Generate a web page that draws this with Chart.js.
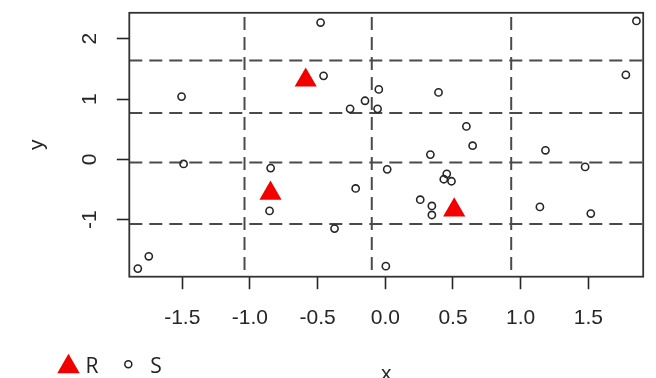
<!DOCTYPE html>
<html>
<head>
<meta charset="utf-8">
<script src="https://cdn.jsdelivr.net/npm/chart.js@4.4.1/dist/chart.umd.min.js"></script>
<style>
  html, body { margin: 0; padding: 0; background: #ffffff; }
  #wrap { width: 656px; height: 378px; }
</style>
</head>
<body>
<div id="wrap"><canvas id="plot" width="656" height="378"></canvas></div>
<script>
// Group S: open circles
const sX = [-1.505, -0.478, -0.456, -0.048, 0.393, -0.150, -0.260, -0.057, 0.599, 0.645,
            1.855, 1.777, -1.490, -0.847, -0.855, -1.747, -1.828, 0.333, 0.014, 0.454,
            0.432, 0.489, -0.219, 0.258, 0.344, 0.344, -0.375, 0.004, 1.183, 1.476,
            1.142, 1.518];
const sY = [1.041, 2.268, 1.385, 1.160, 1.111, 0.972, 0.838, 0.838, 0.547, 0.227,
            2.295, 1.401, -0.075, -0.144, -0.853, -1.606, -1.810, 0.080, -0.165, -0.239,
            -0.329, -0.362, -0.481, -0.668, -0.771, -0.921, -1.147, -1.769, 0.151, -0.124,
            -0.787, -0.897];

// Group R: filled triangles
const rX = [-0.588, -0.848, 0.509];
const rY = [1.313, -0.563, -0.841];

// Dashed reference lines
const vLines = [-1.04, -0.10, 0.93];
const hLines = [1.64, 0.77, -0.05, -1.07];

// Axes
const xTicks = [-1.5, -1.0, -0.5, 0.0, 0.5, 1.0, 1.5];
const yTicks = [-1, 0, 1, 2];
const xRange = [-1.891, 1.905];
const yRange = [-1.944, 2.430];
const seriesNames = ['R', 'S'];
const axisNames = ['x', 'y'];

const RED = '#f20000';
const INK = '#262626';
const DASH = '#4a4a4a';
const TICK_FONT = { family: '"Liberation Sans", Arial, sans-serif', size: 21 };

const toPoints = (xs, ys) => xs.map((x, i) => ({ x, y: ys[i] }));

const lineSets = [
  ...hLines.map(h => ({
    data: [{ x: xRange[0], y: h }, { x: xRange[1], y: h }],
    borderDashOffset: 0
  })),
  ...vLines.map(v => ({
    data: [{ x: v, y: yRange[1] }, { x: v, y: yRange[0] }],
    borderDashOffset: 15.7
  }))
].map(d => ({
  ...d,
  showLine: true,
  borderColor: DASH,
  borderWidth: 2,
  borderDash: [13, 7],
  pointRadius: 0,
  pointHoverRadius: 0,
  fill: false,
  order: 3
}));

// Plot box around the chart area
const frame = {
  id: 'frame',
  afterDatasetsDraw(chart) {
    const { ctx, chartArea: a } = chart;
    ctx.save();
    ctx.strokeStyle = '#333333';
    ctx.lineWidth = 1.8;
    ctx.strokeRect(a.left, a.top, a.right - a.left, a.bottom - a.top);
    ctx.restore();
  }
};

// Key below the plot: triangle = R, circle = S
const key = {
  id: 'key',
  afterDraw(chart) {
    const ctx = chart.ctx;
    ctx.save();
    const tx = 68.5, ty = 366.7, tr = 13;
    ctx.fillStyle = RED;
    ctx.beginPath();
    for (let i = 0; i < 3; i++) {
      const ang = i * 2 * Math.PI / 3;
      const px = tx + Math.sin(ang) * tr, py = ty - Math.cos(ang) * tr;
      if (i === 0) ctx.moveTo(px, py); else ctx.lineTo(px, py);
    }
    ctx.closePath();
    ctx.fill();

    ctx.fillStyle = '#222222';
    ctx.font = '21px "Open Sans", "Liberation Sans", sans-serif';
    ctx.textBaseline = 'alphabetic';
    ctx.textAlign = 'left';
    ctx.fillText(seriesNames[0], 85.5, 373.3);

    ctx.beginPath();
    ctx.arc(128.3, 364.3, 3.5, 0, 2 * Math.PI);
    ctx.lineWidth = 1.5;
    ctx.strokeStyle = '#222222';
    ctx.stroke();
    ctx.fillText(seriesNames[1], 150.3, 373.3);
    ctx.restore();
  }
};

new Chart(document.getElementById('plot'), {
  type: 'scatter',
  data: {
    datasets: [
      {
        label: seriesNames[0],
        data: toPoints(rX, rY),
        pointStyle: 'triangle',
        pointRadius: 12.8,
        pointHoverRadius: 12.8,
        backgroundColor: RED,
        borderColor: RED,
        borderWidth: 0,
        order: 1
      },
      {
        label: seriesNames[1],
        data: toPoints(sX, sY),
        pointStyle: 'circle',
        pointRadius: 3.6,
        pointHoverRadius: 3.6,
        backgroundColor: 'rgba(0,0,0,0)',
        borderColor: INK,
        borderWidth: 1.6,
        order: 2
      },
      ...lineSets
    ]
  },
  options: {
    responsive: false,
    animation: false,
    events: [],
    layout: { padding: { top: 9, right: 9, bottom: 0, left: 0 } },
    plugins: {
      legend: { display: false },
      tooltip: { enabled: false }
    },
    scales: {
      x: {
        type: 'linear',
        position: 'bottom',
        min: xRange[0],
        max: xRange[1],
        afterBuildTicks: s => { s.ticks = xTicks.map(v => ({ value: v })); },
        afterFit: s => { s.height = 101.3; s.paddingLeft = 0; s.paddingRight = 0; },
        ticks: {
          autoSkip: false,
          maxRotation: 0,
          padding: 16.2,
          font: TICK_FONT,
          color: INK,
          callback: v => Number(v).toFixed(1)
        },
        grid: {
          drawOnChartArea: false,
          drawTicks: true,
          tickLength: 12.5,
          tickWidth: 1.6,
          tickColor: INK,
          color: INK
        },
        border: { display: false },
        title: {
          display: true,
          text: axisNames[0],
          font: TICK_FONT,
          color: INK,
          padding: { top: 0, bottom: -8.8 }
        }
      },
      y: {
        type: 'linear',
        position: 'left',
        min: yRange[0],
        max: yRange[1],
        afterBuildTicks: s => { s.ticks = yTicks.map(v => ({ value: v })); },
        afterFit: s => { s.width = 129.3; s.paddingTop = 0; s.paddingBottom = 0; },
        ticks: {
          autoSkip: false,
          minRotation: 90,
          maxRotation: 90,
          crossAlign: 'center',
          padding: 17,
          font: TICK_FONT,
          color: INK,
          callback: v => String(v)
        },
        grid: {
          drawOnChartArea: false,
          drawTicks: true,
          tickLength: 12.5,
          tickWidth: 1.6,
          tickColor: INK,
          color: INK
        },
        border: { display: false },
        title: {
          display: true,
          text: axisNames[1],
          font: TICK_FONT,
          color: INK,
          padding: { top: 24.4, bottom: 0 }
        }
      }
    }
  },
  plugins: [frame, key]
});
</script>
</body>
</html>
